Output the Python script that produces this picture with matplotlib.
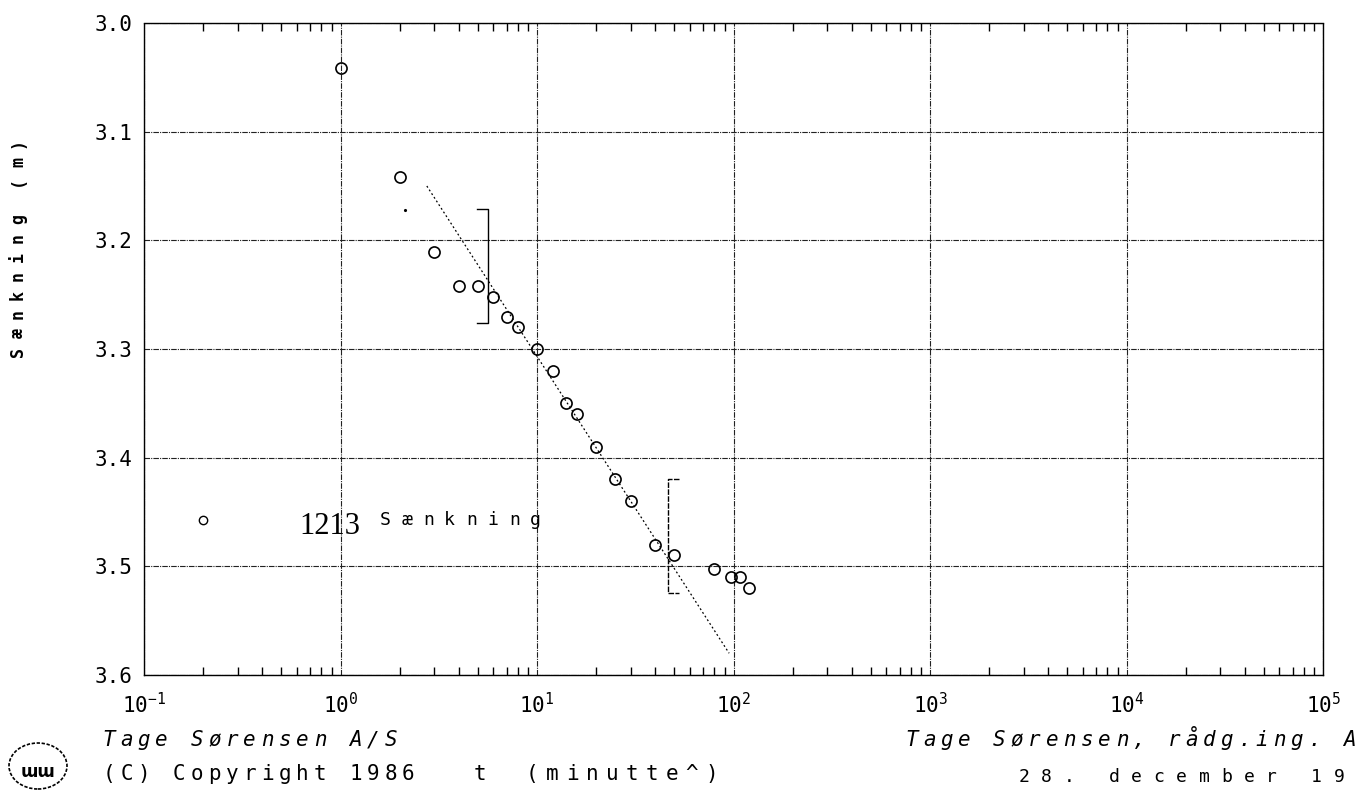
import matplotlib
matplotlib.use("Agg")
import matplotlib.pyplot as plt
import numpy as np
from matplotlib.transforms import offset_copy
from matplotlib.patches import Ellipse

# data
t_obs = [1.0, 2.0, 3.0, 4.0, 5.0, 6.0, 7.0, 8.0, 10.0, 12.0, 14.0, 16.0,
         20.0, 25.0, 30.0, 40.0, 50.0, 80.0, 97.0, 108.0, 120.0]
s_obs = [3.041, 3.142, 3.211, 3.242, 3.242, 3.252, 3.271, 3.280, 3.300, 3.320, 3.350, 3.360,
         3.390, 3.420, 3.440, 3.480, 3.490, 3.502, 3.510, 3.510, 3.520]
stray_t = [2.13]
stray_s = [3.172]
fit_t = [2.75, 95.0]
fit_s = [3.150, 3.580]
br1_t = [4.95, 5.6, 5.6, 4.95]
br1_s = [3.171, 3.171, 3.276, 3.276]
br2_t = [53.0, 46.5, 46.5, 53.0]
br2_s = [3.420, 3.420, 3.525, 3.525]
legend_t = [0.2]
legend_s = [3.457]
yticks = [3.0, 3.1, 3.2, 3.3, 3.4, 3.5, 3.6]
ytick_labels = ["3.0", "3.1", "3.2", "3.3", "3.4", "3.5", "3.6"]
xticks = [1e-1, 1e0, 1e1, 1e2, 1e3, 1e4, 1e5]
xtick_labels = [r"$10^{-1}$", r"$10^{0}$", r"$10^{1}$", r"$10^{2}$",
                r"$10^{3}$", r"$10^{4}$", r"$10^{5}$"]

plt.rcParams["font.family"] = ["DejaVu Sans Mono", "DejaVu Sans"]
plt.rcParams["mathtext.fontset"] = "custom"
plt.rcParams["mathtext.rm"] = "DejaVu Sans Mono"
plt.rcParams["mathtext.it"] = "DejaVu Sans Mono"

W, H = 1363, 794
fig = plt.figure(figsize=(W / 100, H / 100), dpi=100)
ax = fig.add_axes([144 / W, 1 - 675 / H, 1179 / W, 652 / H])

gridstyle = (0, (5, 1, 1, 1))
ax.set_xscale("log")
ax.set_xlim(1e-1, 1e5)
ax.set_ylim(3.6, 3.0)
ax.grid(which="major", color="#222222", linestyle=gridstyle, linewidth=0.8)
for sp in ax.spines.values():
    sp.set_linestyle(gridstyle)
    sp.set_linewidth(1.0)

ax.set_yticks(yticks)
ax.set_yticklabels(ytick_labels, fontsize=15)
ax.set_xticks(xticks)
ax.set_xticklabels(xtick_labels, fontsize=15)
ax.tick_params(which="major", length=0)
ax.tick_params(axis="y", pad=8)
ax.tick_params(axis="x", pad=12)
ax.tick_params(axis="x", which="minor", direction="in", top=True, bottom=True,
               length=6, width=1, labelbottom=False)
ax.tick_params(axis="y", which="minor", left=False, right=False)

ax.plot(fit_t, fit_s, color="black", linestyle=(0, (1.5, 2)), linewidth=0.9)
ax.plot(t_obs, s_obs, "o", ms=8, mfc="none", mec="black", mew=1.2)
ax.plot(stray_t, stray_s, ".", ms=2.5, color="black")
ax.plot(legend_t, legend_s, "o", ms=6, mfc="none", mec="black", mew=1.0)
ax.plot(br1_t, br1_s, color="black", linewidth=1.0)
ax.plot(br2_t, br2_s, color="black", linewidth=1.0, linestyle=(0, (4, 1)))

ax.text(0.88, 3.463, "1213", fontsize=22, family="Liberation Serif",
        ha="center", va="center")


def spaced(x, y, s, pitch, transform, dx=1, dy=0, **kw):
    # draw a letter-spaced string, one character every `pitch` pixels
    for i, ch in enumerate(s):
        tr = offset_copy(transform, fig=fig, x=i * pitch * dx, y=i * pitch * dy,
                         units="dots")
        fig.text(x, y, ch, transform=tr, ha="center", va="center", **kw)


spaced(1.69, 3.457, "Sænkning", 21.5, ax.transData, fontsize=13)

# y axis label, read bottom to top
spaced(18 / W, 1 - 352 / H, "Sænkning (m)", 19, fig.transFigure, dx=0, dy=1,
       fontsize=12, rotation=90, fontweight="bold")

# footer
spaced(109 / W, 1 - 740 / H, "Tage Sørensen A/S", 17.6, fig.transFigure,
       fontsize=15, style="italic")
spaced(109 / W, 1 - 774 / H, "(C) Copyright 1986", 17.6, fig.transFigure,
       fontsize=15)
spaced(480 / W, 1 - 774 / H, "t", 17, fig.transFigure, fontsize=15)
spaced(532 / W, 1 - 774 / H, "(minutte^)", 20, fig.transFigure, fontsize=15)
spaced(912 / W, 1 - 740 / H, "Tage Sørensen, rådg.ing. A", 17.5,
       fig.transFigure, fontsize=15, style="italic")
spaced(1024 / W, 1 - 777 / H, "28. december 19", 22.5, fig.transFigure,
       fontsize=13)

# logo
fig.patches.append(Ellipse((38 / W, 1 - 766 / H), 58 / W, 46 / H,
                           transform=fig.transFigure, fill=False,
                           edgecolor="black", linestyle=(0, (2, 1)), linewidth=1.2))
fig.text(38 / W, 1 - 772 / H, "ɯɯ", ha="center", va="center", fontsize=12,
         family="DejaVu Sans", fontweight="bold")

fig.savefig("out.png", dpi=100)
